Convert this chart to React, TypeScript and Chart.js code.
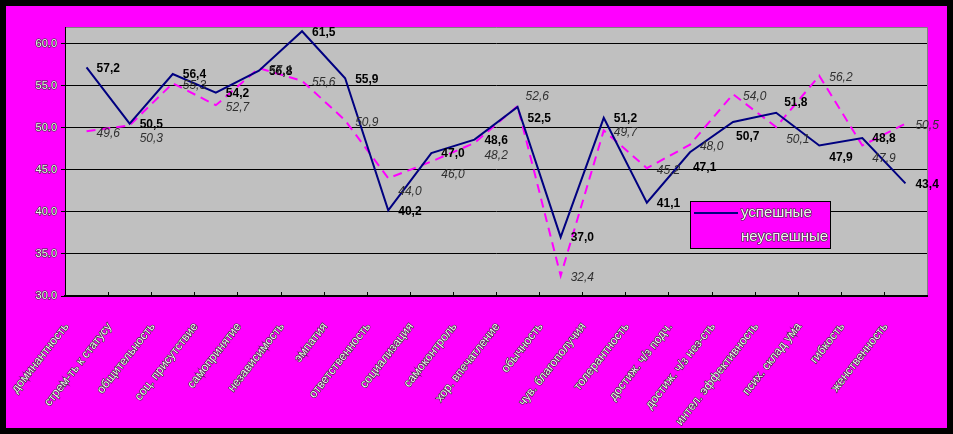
import { useEffect, useRef } from "react";
import { Chart, registerables } from "chart.js";

Chart.register(...registerables);

const categories = [
  "доминантность",
  "стрем-ть к статусу",
  "общительность",
  "соц. присутствие",
  "самопринятие",
  "независимость",
  "эмпатия",
  "ответственность",
  "социализация",
  "самоконтроль",
  "хор. впечатление",
  "обычность",
  "чув. благополучия",
  "толерантность",
  "достиж. ч/з подч.",
  "достиж. ч/з нез-сть",
  "интел. эффективность",
  "псих. склад ума",
  "гибкость",
  "женственность",
];

const successful = [57.2, 50.5, 56.4, 54.2, 56.8, 61.5, 55.9, 40.2, 47.0, 48.6, 52.5, 37.0, 51.2, 41.1, 47.1, 50.7, 51.8, 47.9, 48.8, 43.4];
const unsuccessful = [49.6, 50.3, 55.3, 52.7, 57.1, 55.6, 50.9, 44.0, 46.0, 48.2, 52.6, 32.4, 49.7, 45.2, 48.0, 54.0, 50.1, 56.2, 47.9, 50.5];

const seriesNames = ["успешные", "неуспешные"];
const yTickValues = [30, 35, 40, 45, 50, 55, 60];
const yMin = 30;
const yMax = 62;

// label placement per point (like Excel's per-point label position)
const successfulLabelPos = ["r", "r", "r", "r", "r", "r", "r", "r", "r", "r", "rb", "r", "r", "r", "b", "b", "ra", "rb", "r", "r"];
const unsuccessfulLabelPos = ["r", "rb", "r", "r", "r", "r", "r", "rb", "rb", "rb", "ra", "r", "r", "r", "r", "r", "rb", "r", "rb", "r"];

const placementOffset: Record<string, [number, number]> = {
  r: [10, 1],
  rb: [10, 12],
  ra: [8, -10],
  b: [3, 15],
};

const fmt = (v: number) => v.toFixed(1).replace(".", ",");

const plotBgPlugin = {
  id: "plotBg",
  beforeDraw(chart: any) {
    const { ctx, chartArea } = chart;
    ctx.save();
    ctx.fillStyle = "#c0c0c0";
    ctx.fillRect(chartArea.left, chartArea.top, chartArea.right - chartArea.left, chartArea.bottom - chartArea.top);
    ctx.strokeStyle = "#808080";
    ctx.lineWidth = 1;
    ctx.beginPath();
    ctx.moveTo(chartArea.left, chartArea.top + 0.5);
    ctx.lineTo(chartArea.right + 0.5, chartArea.top + 0.5);
    ctx.lineTo(chartArea.right + 0.5, chartArea.bottom);
    ctx.stroke();
    ctx.restore();
  },
};

const valueLabelPlugin = {
  id: "valueLabels",
  afterDatasetsDraw(chart: any) {
    const { ctx } = chart;
    ctx.save();
    chart.data.datasets.forEach((ds: any, di: number) => {
      const meta = chart.getDatasetMeta(di);
      const positions = di === 0 ? successfulLabelPos : unsuccessfulLabelPos;
      meta.data.forEach((pt: any, i: number) => {
        const v = ds.data[i] as number;
        const [dx, dy] = placementOffset[positions[i]] || placementOffset.r;
        ctx.textAlign = "left";
        ctx.textBaseline = "middle";
        if (di === 0) {
          ctx.font = "bold 12px Arial, 'Liberation Sans', sans-serif";
          ctx.fillStyle = "#000000";
          ctx.fillText(fmt(v), pt.x + dx, pt.y + dy);
        } else {
          ctx.font = "italic 12px Arial, 'Liberation Sans', sans-serif";
          ctx.fillStyle = "#303030";
          ctx.fillText(fmt(v), pt.x + dx, pt.y + dy + 1);
        }
      });
    });
    ctx.restore();
  },
};

const xTickPlugin = {
  id: "xTicksInside",
  afterDraw(chart: any) {
    const { ctx, chartArea } = chart;
    const xs = chart.scales.x;
    ctx.save();
    ctx.strokeStyle = "#000";
    ctx.lineWidth = 1;
    ctx.beginPath();
    for (let i = 1; i < categories.length; i++) {
      const x = Math.round((xs.getPixelForValue(i - 1) + xs.getPixelForValue(i)) / 2) + 0.5;
      ctx.moveTo(x, chartArea.bottom);
      ctx.lineTo(x, chartArea.bottom - 4);
    }
    ctx.stroke();
    ctx.restore();
  },
};

const legendPlugin = {
  id: "customLegend",
  afterDraw(chart: any) {
    const { ctx, chartArea } = chart;
    const left = chartArea.right - 237;
    const top = chartArea.bottom - 95;
    const w = 140;
    const h = 47;
    ctx.save();
    ctx.fillStyle = "#ff00ff";
    ctx.fillRect(left, top, w, h);
    ctx.strokeStyle = "#000";
    ctx.lineWidth = 1;
    ctx.strokeRect(left + 0.5, top + 0.5, w, h);
    chart.data.datasets.forEach((ds: any, i: number) => {
      const y = top + 12 + i * 24;
      ctx.strokeStyle = ds.borderColor;
      ctx.lineWidth = 2;
      ctx.setLineDash(ds.borderDash || []);
      ctx.beginPath();
      ctx.moveTo(left + 4, y);
      ctx.lineTo(left + 48, y);
      ctx.stroke();
      ctx.setLineDash([]);
      ctx.font = "15px Arial, 'Liberation Sans', sans-serif";
      ctx.textAlign = "left";
      ctx.textBaseline = "middle";
      ctx.lineWidth = 1.2;
      ctx.strokeStyle = "#333";
      ctx.strokeText(ds.label, left + 51, y);
      ctx.fillStyle = "#f2f2f2";
      ctx.fillText(ds.label, left + 51, y);
    });
    ctx.restore();
  },
};

export default function App() {
  const canvasRef = useRef<HTMLCanvasElement | null>(null);

  useEffect(() => {
    const canvas = canvasRef.current;
    if (!canvas) return;
    const chart = new Chart(canvas, {
      type: "line",
      data: {
        labels: categories,
        datasets: [
          {
            label: seriesNames[0],
            data: successful,
            borderColor: "#000080",
            backgroundColor: "#000080",
            borderWidth: 2,
            pointRadius: 0,
            tension: 0,
            fill: false,
          },
          {
            label: seriesNames[1],
            data: unsuccessful,
            borderColor: "#ff00ff",
            backgroundColor: "#ff00ff",
            borderWidth: 2,
            borderDash: [9, 6],
            pointRadius: 0,
            tension: 0,
            fill: false,
          },
        ],
      },
      options: {
        responsive: false,
        animation: false,
        events: [],
        layout: { padding: { top: 21, right: 20, left: 0, bottom: 0 } },
        plugins: {
          legend: { display: false },
          tooltip: { enabled: false },
          title: { display: false },
        },
        scales: {
          x: {
            type: "category",
            offset: true,
            grid: { display: false, drawOnChartArea: false, offset: true },
            border: { display: true, color: "#000", width: 2 },
            ticks: {
              autoSkip: false,
              minRotation: 52,
              maxRotation: 52,
              padding: 16,
              labelOffset: -20,
              color: "#f0f0f0",
              textStrokeColor: "#333",
              textStrokeWidth: 1.2,
              font: { family: "Arial, 'Liberation Sans', sans-serif", size: 12 },
            },
            afterFit: (s: any) => {
              s.height = 132;
            },
          },
          y: {
            min: yMin,
            max: yMax,
            grid: { color: "#000", lineWidth: 1, tickLength: 4, tickColor: "#000" },
            border: { display: true, color: "#000", width: 1 },
            afterBuildTicks: (s: any) => {
              s.ticks = yTickValues.map((v) => ({ value: v }));
            },
            ticks: {
              padding: 4,
              color: "#f0f0f0",
              textStrokeColor: "#333",
              textStrokeWidth: 1.2,
              font: { family: "Arial, 'Liberation Sans', sans-serif", size: 11 },
              callback: (v: any) => Number(v).toFixed(1),
            },
            afterFit: (s: any) => {
              s.width = 59;
            },
          },
        },
      },
      plugins: [plotBgPlugin, valueLabelPlugin, xTickPlugin, legendPlugin],
    });
    return () => chart.destroy();
  }, []);

  return (
    <div style={{ position: "fixed", left: 0, top: 0, width: 953, height: 434, background: "#000" }}>
      <div style={{ position: "absolute", left: 6, top: 6, width: 941, height: 422, background: "#ff00ff" }}>
        <canvas ref={canvasRef} width={941} height={422} style={{ display: "block", width: 941, height: 422 }} />
      </div>
    </div>
  );
}
